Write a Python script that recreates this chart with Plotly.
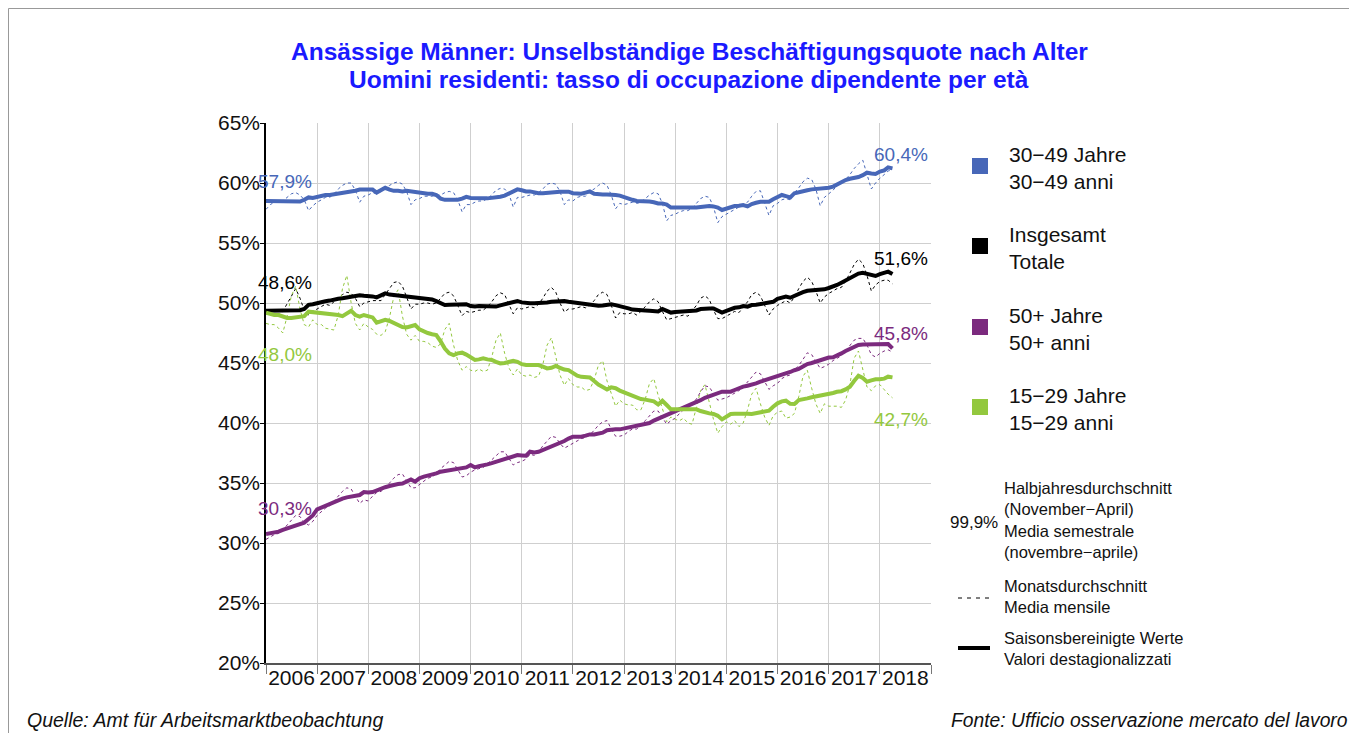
import plotly.graph_objects as go
import pandas as pd

# ---------------- data ----------------
months = pd.date_range("2006-01-01", periods=148, freq="MS")
years = [str(y) for y in range(2006, 2019)]

series_names = ["30−49 Jahre<br>30−49 anni", "Insgesamt<br>Totale",
                "50+ Jahre<br>50+ anni", "15−29 Jahre<br>15−29 anni"]

# seasonally adjusted (Saisonsbereinigte Werte)
blue_sa = [
    58.5, 58.5, 58.5, 58.5, 58.5, 58.5, 58.5, 58.45, 58.45, 58.6, 58.8, 58.75,
    58.85, 58.9, 59.0, 59.0, 59.05, 59.1, 59.2, 59.25, 59.3, 59.35, 59.45, 59.45,
    59.45, 59.45, 59.2, 59.45, 59.6, 59.45, 59.35, 59.35, 59.3, 59.35, 59.3, 59.2,
    59.2, 59.15, 59.1, 59.1, 59.0, 58.7, 58.6, 58.6, 58.6, 58.6, 58.7, 58.85,
    58.75, 58.72, 58.72, 58.72, 58.72, 58.75, 58.8, 58.86, 58.95, 59.1, 59.3, 59.47,
    59.4, 59.3, 59.3, 59.2, 59.15, 59.15, 59.2, 59.2, 59.25, 59.28, 59.28, 59.28,
    59.15, 59.15, 59.1, 59.2, 59.3, 59.1, 59.05, 59.05, 59.05, 59.05, 59.0, 58.95,
    58.8, 58.65, 58.6, 58.5, 58.5, 58.45, 58.45, 58.4, 58.3, 58.3, 58.2, 57.95,
    57.95, 57.95, 57.95, 57.93, 57.9, 57.95, 58.0, 58.05, 58.08, 58.05, 57.95, 57.75,
    57.85, 58.0, 58.08, 58.1, 58.16, 58.05, 58.25, 58.35, 58.44, 58.44, 58.44, 58.65,
    58.85, 59.0, 58.9, 58.8, 59.15, 59.25, 59.36, 59.4, 59.47, 59.5, 59.5, 59.5,
    59.6, 59.7, 59.9, 60.1, 60.25, 60.35, 60.4, 60.5, 60.65, 60.86, 60.8, 60.75,
    60.95, 61.05, 61.3, 61.22,
]
black_sa = [
    49.35, 49.35, 49.35, 49.35, 49.35, 49.38, 49.38, 49.4, 49.4, 49.5, 49.85, 49.9,
    50.0, 50.1, 50.15, 50.2, 50.3, 50.35, 50.4, 50.45, 50.55, 50.6, 50.65, 50.6,
    50.6, 50.55, 50.47, 50.6, 50.8, 50.7, 50.66, 50.66, 50.62, 50.62, 50.55, 50.5,
    50.45, 50.4, 50.35, 50.3, 50.15, 50.0, 49.83, 49.85, 49.88, 49.88, 49.88, 49.9,
    49.75, 49.7, 49.75, 49.75, 49.77, 49.7, 49.7, 49.8, 49.9, 50.0, 50.1, 50.17,
    50.05, 49.97, 49.97, 49.97, 49.97, 50.0, 50.05, 50.1, 50.12, 50.15, 50.16, 50.1,
    50.05, 50.02, 50.0, 49.97, 49.92, 49.85, 49.77, 49.8, 49.85, 49.89, 49.82, 49.75,
    49.65, 49.55, 49.45, 49.4, 49.4, 49.38, 49.36, 49.32, 49.3, 49.5, 49.3, 49.2,
    49.25, 49.28, 49.3, 49.32, 49.36, 49.38, 49.5, 49.55, 49.55, 49.55, 49.4, 49.2,
    49.35, 49.5, 49.6, 49.64, 49.75, 49.7, 49.83, 49.85, 49.9, 49.92, 49.97, 50.1,
    50.35, 50.45, 50.53, 50.44, 50.6, 50.8, 50.9, 51.02, 51.05, 51.08, 51.1, 51.14,
    51.25, 51.36, 51.5, 51.69, 51.9, 52.1, 52.25, 52.45, 52.52, 52.41, 52.35, 52.25,
    52.4, 52.5, 52.61, 52.41,
]
purple_sa = [
    30.75, 30.8, 30.86, 30.95, 31.1, 31.22, 31.35, 31.5, 31.6, 31.7, 32.0, 32.3,
    32.8, 32.95, 33.1, 33.3, 33.45, 33.6, 33.7, 33.8, 33.86, 33.86, 34.0, 34.25,
    34.2, 34.25, 34.4, 34.5, 34.65, 34.75, 34.85, 34.91, 34.95, 35.1, 35.3, 35.11,
    35.4, 35.53, 35.6, 35.66, 35.8, 35.94, 36.0, 36.05, 36.08, 36.12, 36.2, 36.3,
    36.5, 36.3, 36.4, 36.45, 36.55, 36.65, 36.75, 36.91, 37.0, 37.05, 37.15, 37.33,
    37.3, 37.27, 37.61, 37.55, 37.6, 37.75, 37.89, 38.0, 38.15, 38.3, 38.5, 38.7,
    38.86, 38.86, 38.86, 38.95, 39.05, 39.05, 39.12, 39.19, 39.4, 39.47, 39.47, 39.47,
    39.55, 39.6, 39.64, 39.7, 39.8, 39.89, 40.0, 40.2, 40.35, 40.55, 40.7, 40.85,
    40.94, 41.1, 41.3, 41.45, 41.6, 41.69, 41.9, 42.1, 42.25, 42.4, 42.55, 42.61,
    42.61, 42.61, 42.75, 42.9, 43.03, 43.1, 43.16, 43.3, 43.44, 43.55, 43.64, 43.75,
    43.86, 44.0, 44.14, 44.25, 44.4, 44.5, 44.7, 44.91, 45.0, 45.11, 45.25, 45.39,
    45.45, 45.47, 45.6, 45.8, 46.0, 46.2, 46.35, 46.5, 46.55, 46.55, 46.55, 46.52,
    46.5, 46.55, 46.58, 46.22,
]
green_sa = [
    49.2, 49.1, 49.0, 49.0, 48.9, 48.75, 48.75, 48.8, 48.8, 48.9, 49.28, 49.25,
    49.2, 49.14, 49.1, 49.1, 49.08, 49.0, 48.91, 49.1, 49.36, 49.0, 48.86, 49.0,
    48.9, 48.8, 48.36, 48.45, 48.6, 48.5, 48.35, 48.22, 48.0, 47.97, 48.05, 48.16,
    47.8, 47.61, 47.5, 47.4, 47.33, 46.8, 46.2, 45.8, 45.66, 45.8, 45.86, 45.7,
    45.52, 45.25, 45.3, 45.39, 45.3, 45.25, 45.1, 44.97, 45.0, 45.1, 45.19, 45.1,
    44.9, 44.83, 44.83, 44.83, 44.83, 44.7, 44.55, 44.6, 44.75, 44.6, 44.45, 44.41,
    44.2, 43.95, 43.85, 43.8, 43.8, 43.5, 43.2, 43.0, 42.8, 42.97, 42.9, 42.7,
    42.55, 42.4, 42.25, 42.15, 42.0, 41.95, 41.85, 41.8, 41.55, 41.85, 41.5, 41.14,
    41.14, 41.14, 41.14, 41.14, 41.14, 41.14, 41.0, 40.86, 40.8, 40.75, 40.6, 40.3,
    40.5, 40.75, 40.78, 40.8, 40.8, 40.78, 40.75, 40.8, 40.86, 40.95, 41.03, 41.35,
    41.64, 41.8, 41.86, 41.6, 41.58, 41.91, 41.95, 42.05, 42.14, 42.2, 42.25, 42.3,
    42.41, 42.5, 42.6, 42.65, 42.8, 43.03, 43.5, 43.94, 43.75, 43.44, 43.55, 43.64,
    43.64, 43.7, 43.86, 43.8,
]

# monthly averages (Monatsdurchschnitt)
blue_m = [
    57.8, 58.2, 58.4, 58.4, 58.5, 58.8, 59.1, 59.2, 59.0, 58.6, 57.7, 58.1,
    58.4, 58.6, 58.8, 58.8, 59.1, 59.5, 59.8, 60.0, 60.0, 59.4, 58.4, 58.9,
    59.0, 59.2, 59.1, 59.3, 59.6, 59.8, 60.0, 60.1, 59.9, 59.3, 58.2, 58.6,
    58.7, 58.9, 58.9, 58.9, 59.0, 59.0, 59.2, 59.3, 59.2, 58.6, 57.6, 58.2,
    58.2, 58.4, 58.5, 58.5, 58.7, 59.0, 59.4, 59.55, 59.5, 59.1, 58.0, 58.8,
    58.8, 58.9, 59.0, 59.0, 59.2, 59.5, 59.9, 60.0, 59.9, 59.3, 58.2, 58.6,
    58.5, 58.8, 58.9, 58.9, 59.3, 59.5, 59.8, 60.0, 59.8, 59.0, 57.85, 58.3,
    58.2, 58.3, 58.4, 58.3, 58.4, 58.7, 59.0, 59.2, 59.1, 58.3, 56.85, 57.3,
    57.4, 57.6, 57.7, 57.7, 57.9, 58.3, 58.7, 58.9, 58.8, 58.0, 56.7, 57.2,
    57.4, 57.6, 57.8, 58.0, 58.2, 58.4, 58.9, 59.3, 59.35, 58.4, 57.3, 58.1,
    58.3, 58.6, 58.7, 58.6, 59.2, 59.6, 60.1, 60.4, 60.3, 59.5, 58.1, 58.8,
    59.1, 59.4, 59.8, 60.0, 60.3, 60.7, 61.2, 61.6, 61.9, 60.8, 59.5, 60.0,
    60.4, 60.7, 61.0, 61.1,
]
black_m = [
    49.1, 49.0, 49.1, 49.0, 49.3, 49.9, 50.6, 51.2, 50.4, 49.4, 49.0, 49.3,
    49.5, 49.7, 49.9, 49.8, 50.1, 50.4, 50.7, 50.9, 50.8, 50.4, 49.7, 50.0,
    50.1, 50.2, 50.2, 50.2, 50.7, 51.2, 51.7, 51.8, 51.4, 50.5, 49.5, 49.9,
    49.9, 50.0, 50.0, 49.9, 50.0, 50.4, 50.8, 50.9, 50.6, 49.8, 48.95, 49.3,
    49.2, 49.3, 49.4, 49.4, 49.7, 50.1, 50.6, 50.85, 50.7, 49.9, 49.1, 49.6,
    49.5, 49.6, 49.7, 49.6, 49.9, 50.4, 51.0, 51.3, 50.9, 50.0, 49.25, 49.5,
    49.5, 49.6, 49.7, 49.6, 49.8, 50.2, 50.7, 50.9, 50.7, 49.8, 48.75, 49.2,
    49.1, 49.1, 49.2, 49.0, 49.3, 49.7, 50.1, 50.35, 50.1, 49.3, 48.6, 48.7,
    48.8, 48.9, 49.0, 48.9, 49.3, 49.8, 50.4, 50.6, 50.3, 49.4, 48.7, 48.7,
    48.9, 49.1, 49.3, 49.2, 49.6, 50.1, 50.7, 50.9, 50.6, 49.8, 49.0, 49.5,
    49.8, 50.0, 50.2, 50.0, 50.5, 51.2, 51.8, 52.15, 51.8, 51.0, 50.0, 50.5,
    50.8, 51.0, 51.2, 51.3, 51.8, 52.5, 53.2, 53.65, 53.3, 52.3, 51.0, 51.5,
    51.8, 51.9, 51.9, 51.6,
]
purple_m = [
    30.3, 30.5, 30.7, 30.8, 31.1, 31.5, 31.9, 32.3, 32.2, 31.7, 31.5, 31.8,
    32.3, 32.6, 32.9, 33.1, 33.5, 33.9, 34.3, 34.6, 34.5, 33.9, 33.3, 33.6,
    33.5, 33.9, 34.2, 34.3, 34.6, 35.0, 35.4, 35.7, 35.75, 35.2, 34.6, 34.6,
    34.9, 35.2, 35.4, 35.5, 35.8, 36.2, 36.5, 36.8, 36.7, 36.1, 35.5, 35.6,
    35.9, 36.1, 36.2, 36.3, 36.6, 36.95, 37.3, 37.6, 37.6, 37.0, 36.5, 36.7,
    36.8, 37.0, 37.4, 37.3, 37.6, 38.1, 38.5, 38.9, 38.8, 38.3, 37.9, 38.1,
    38.3, 38.5, 38.7, 38.8, 39.0, 39.4, 39.8, 40.1, 40.2, 39.5, 38.9, 38.9,
    39.0, 39.3, 39.5, 39.5, 39.8, 40.2, 40.6, 41.0, 41.0, 40.5, 39.9, 40.2,
    40.4, 40.8, 41.1, 41.2, 41.6, 42.0, 42.6, 43.1, 43.0, 42.4, 41.9, 42.0,
    42.1, 42.3, 42.5, 42.7, 43.0, 43.4, 43.8, 44.25, 44.1, 43.5, 42.8, 43.1,
    43.3, 43.7, 43.9, 44.0, 44.4, 44.8, 45.3, 45.85, 45.7, 45.1, 44.55, 44.7,
    44.9, 45.2, 45.4, 45.6, 46.0, 46.5, 46.9, 47.05, 47.05, 46.5, 45.7, 45.5,
    45.8, 46.0, 46.1, 45.9,
]
green_m = [
    48.3, 48.2, 48.2, 47.9, 47.5, 48.9, 50.6, 51.4, 49.5, 48.2, 48.0, 48.6,
    48.2, 48.2, 47.9, 47.8, 47.75, 49.0, 51.2, 52.3, 50.0, 48.3, 47.75, 48.3,
    48.0, 47.8, 47.4, 47.3, 47.6, 48.8, 50.5, 51.1, 48.9, 47.4, 46.9, 47.3,
    46.8, 46.8, 46.7, 46.4, 46.3, 46.6, 47.8, 48.3, 46.5, 45.2, 44.4, 44.7,
    44.4, 44.3, 44.5, 44.3, 44.4, 45.5, 46.9, 47.5, 45.8, 44.6, 44.0, 44.5,
    44.0, 43.9, 44.0, 43.8, 43.9, 44.9, 46.5, 47.1, 45.5, 44.0, 43.15, 43.7,
    43.2, 43.0, 43.0, 42.7, 42.8, 43.6, 44.8, 45.2, 43.5, 42.4, 41.4, 41.9,
    41.6, 41.5, 41.5, 41.1, 41.1, 42.0, 43.3, 43.7, 42.3, 41.2, 40.1, 40.5,
    40.3, 40.2, 40.4, 40.0, 39.9, 41.3, 42.7, 43.2, 41.6, 40.3, 39.15, 39.7,
    40.1, 39.9, 40.2, 39.7, 40.0, 41.1, 42.4, 42.9, 41.6, 40.5, 39.8, 40.6,
    40.9, 41.0, 40.4, 40.5, 40.8, 42.2, 43.9, 44.4, 42.9, 41.6, 40.8, 41.6,
    41.4, 41.4, 41.4, 41.3, 41.9, 43.2, 45.4, 46.0, 44.5, 43.0, 42.7, 43.1,
    43.2, 42.8, 42.4, 42.1,
]

# half-year averages (November-April) shown at both ends
first_avg = ["57,9%", "48,6%", "30,3%", "48,0%"]
last_avg = ["60,4%", "51,6%", "45,8%", "42,7%"]

# ---------------- style ----------------
colors = ["#4767b8", "#000000", "#7b2a7e", "#93c83e"]
FONT = "Liberation Sans, Arial, sans-serif"
OFF = 8                      # page body margin
W, H = 1349, 725
ML, MR, MT, MB = 258, 426, 115, 70
PW, PH = W - ML - MR, H - MT - MB


def px(x):  # page pixel -> paper fraction
    return (x - OFF - ML) / PW


def py(y):
    return (H - MB - (y - OFF)) / PH


fig = go.Figure()
sa_list = [blue_sa, black_sa, purple_sa, green_sa]
m_list = [blue_m, black_m, purple_m, green_m]

for m, c in zip(m_list, colors):
    fig.add_trace(go.Scatter(x=months, y=m, mode="lines", showlegend=False,
                             line=dict(color=c, width=1, dash="3px,3px")))
for s, c in zip(sa_list, colors):
    fig.add_trace(go.Scatter(x=months, y=s, mode="lines", showlegend=False,
                             line=dict(color=c, width=4)))

annotations = []
start_y = [60.1, 51.7, 32.9, 45.7]
end_y = [62.4, 53.7, 47.5, 40.3]
for txt, yv, c in zip(first_avg, start_y, colors):
    annotations.append(dict(x=months[0], y=yv, xref="x", yref="y", text=txt,
                            showarrow=False, xanchor="left", xshift=-10,
                            font=dict(size=19, color=c, family=FONT)))
for txt, yv, c in zip(last_avg, end_y, colors):
    annotations.append(dict(x=1, y=yv, xref="paper", yref="y", text=txt,
                            showarrow=False, xanchor="right", xshift=-1,
                            font=dict(size=19, color=c, family=FONT)))

# title (two lines)
for txt, ty in [("Ansässige Männer: Unselbständige Beschäftigungsquote nach Alter", 52),
                ("Uomini residenti: tasso di occupazione dipendente per età", 80)]:
    annotations.append(dict(x=px(689), y=py(ty), xref="paper", yref="paper",
                            text="<b>" + txt + "</b>", showarrow=False,
                            xanchor="center", yanchor="middle",
                            font=dict(size=24.5, color="#1a1aff", family=FONT)))

shapes = []
# custom legend
leg_y = [166, 246, 327, 407]
for name, c, ly in zip(series_names, colors, leg_y):
    shapes.append(dict(type="rect", xref="paper", yref="paper",
                       x0=px(972), x1=px(988), y0=py(ly - 8), y1=py(ly + 8),
                       fillcolor=c, line=dict(width=0)))
    annotations.append(dict(x=px(1007), y=py(ly + 2), xref="paper", yref="paper",
                            text=name, showarrow=False, xanchor="left", yanchor="middle",
                            align="left", font=dict(size=21, color="#111", family=FONT)))

annotations.append(dict(x=px(948), y=py(522), xref="paper", yref="paper", text="99,9%",
                        showarrow=False, xanchor="left", yanchor="middle",
                        font=dict(size=17, color="#111", family=FONT)))
annotations.append(dict(x=px(1002), y=py(520), xref="paper", yref="paper",
                        text="Halbjahresdurchschnitt<br>(November−April)<br>Media semestrale<br>(novembre−aprile)",
                        showarrow=False, xanchor="left", yanchor="middle", align="left",
                        font=dict(size=16.5, color="#111", family=FONT)))
annotations.append(dict(x=px(1002), y=py(596), xref="paper", yref="paper",
                        text="Monatsdurchschnitt<br>Media mensile",
                        showarrow=False, xanchor="left", yanchor="middle", align="left",
                        font=dict(size=16.5, color="#111", family=FONT)))
annotations.append(dict(x=px(1002), y=py(648), xref="paper", yref="paper",
                        text="Saisonsbereinigte Werte<br>Valori destagionalizzati",
                        showarrow=False, xanchor="left", yanchor="middle", align="left",
                        font=dict(size=16.5, color="#111", family=FONT)))
shapes.append(dict(type="line", xref="paper", yref="paper", x0=px(958), x1=px(990),
                   y0=py(598), y1=py(598), line=dict(color="#000", width=1, dash="4px,5px")))
shapes.append(dict(type="line", xref="paper", yref="paper", x0=px(958), x1=px(990),
                   y0=py(648), y1=py(648), line=dict(color="#000", width=4)))

# footer
annotations.append(dict(x=px(25), y=py(720), xref="paper", yref="paper",
                        text="<i>Quelle: Amt für Arbeitsmarktbeobachtung</i>",
                        showarrow=False, xanchor="left", yanchor="middle",
                        font=dict(size=19.5, color="#111", family=FONT)))
annotations.append(dict(x=px(1350), y=py(720), xref="paper", yref="paper",
                        text="<i>Fonte: Ufficio osservazione mercato del lavoro</i>",
                        showarrow=False, xanchor="right", yanchor="middle",
                        font=dict(size=19.3, color="#111", family=FONT)))

# outer frame (left and top edges visible)
shapes.append(dict(type="rect", xref="paper", yref="paper", x0=px(8.5), x1=px(1380),
                   y0=py(760), y1=py(8.5), line=dict(color="#999", width=1), layer="below"))

year_starts = [f"{y}-01-01" for y in range(2006, 2020)]
year_mids = [f"{y}-07-02" for y in range(2006, 2019)]

fig.update_layout(
    width=W, height=H,
    margin=dict(l=ML, r=MR, t=MT, b=MB),
    paper_bgcolor="white", plot_bgcolor="white",
    font=dict(family=FONT, color="#111"),
    showlegend=False,
    annotations=annotations, shapes=shapes,
    xaxis=dict(type="date", range=["2006-01-01", "2019-01-01"],
               tickmode="array", tickvals=year_mids, ticktext=years,
               ticks="", showgrid=False, zeroline=False,
               showline=True, linecolor="#555", linewidth=2,
               tickfont=dict(size=21, color="#111", family=FONT),
               ticklabelstandoff=-5,
               minor=dict(tickmode="array", tickvals=year_starts, showgrid=True,
                          gridcolor="#cfcfcf", gridwidth=1, ticks="outside",
                          ticklen=9, tickcolor="#777", tickwidth=1)),
    yaxis=dict(range=[20, 65], tickmode="array",
               tickvals=[20, 25, 30, 35, 40, 45, 50, 55, 60, 65],
               ticktext=["20%", "25%", "30%", "35%", "40%", "45%", "50%", "55%", "60%", "65%"],
               showgrid=True, gridcolor="#cfcfcf", gridwidth=1, zeroline=False,
               showline=True, linecolor="#000", linewidth=1.5,
               ticks="outside", ticklen=4, tickcolor="#000",
               ticklabelstandoff=-4,
               tickfont=dict(size=21, color="#111", family=FONT)),
)

fig.write_html("out.html")
